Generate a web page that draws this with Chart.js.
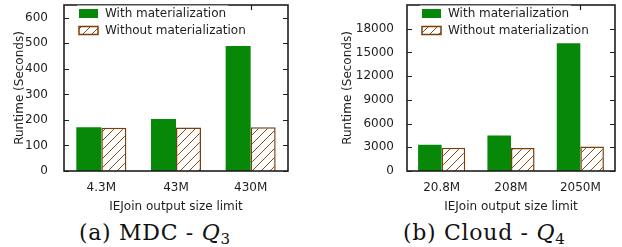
<!DOCTYPE html>
<html><head><meta charset="utf-8">
<script src="https://cdn.jsdelivr.net/npm/chart.js@4.4.0/dist/chart.umd.min.js"></script>
<style>
html,body{margin:0;padding:0;background:#fff;width:622px;height:247px;overflow:hidden}
.panel{position:absolute;top:0;width:311px;height:214px}
.cap{position:absolute;top:220px;font-family:'DejaVu Serif',serif;font-size:22px;line-height:25px;letter-spacing:0.7px;color:#111;white-space:nowrap}
.cap i{font-style:italic}
.cap .sb{font-size:15px;vertical-align:-4px;letter-spacing:0}
</style></head><body>
<div class="panel" style="left:0"><canvas id="c1" width="311" height="214"></canvas></div>
<div class="panel" style="left:311px"><canvas id="c2" width="311" height="214"></canvas></div>
<div class="cap" style="left:79px">(a) MDC - <i>Q</i><span class="sb">3</span></div>
<div class="cap" style="left:403px">(b) Cloud - <i>Q</i><span class="sb">4</span></div>
<script>
// ---- data ----
const seriesLabels = ['With materialization', 'Without materialization'];

const categoriesA = ['4.3M', '43M', '430M'];
const withMatA = [171, 204, 489];
const withoutMatA = [169, 170, 171];
const yTicksA = [0, 100, 200, 300, 400, 500, 600];
const yMaxA = 650;

const categoriesB = ['20.8M', '208M', '2050M'];
const withMatB = [3320, 4490, 16150];
const withoutMatB = [2950, 2900, 3100];
const yTicksB = [0, 3000, 6000, 9000, 12000, 15000, 18000];
const yMaxB = 21000;

const xTitle = 'IEJoin output size limit';
const yTitle = 'Runtime (Seconds)';

// ---- styles ----
const GREEN = '#088808';
const BROWN = '#7b3f0c';
const HATCH_LINE = '#8a4a14';
const INK = '#1e1e1e';
const FONT = {family: "'DejaVu Sans', sans-serif", size: 12};

function makeHatch() {
  const s = 9;
  const c = document.createElement('canvas');
  c.width = s; c.height = s;
  const g = c.getContext('2d');
  g.fillStyle = '#fff';
  g.fillRect(0, 0, s, s);
  g.strokeStyle = HATCH_LINE;
  g.lineWidth = 1;
  g.beginPath();
  g.moveTo(0, s); g.lineTo(s, 0);
  g.moveTo(-1, 1); g.lineTo(1, -1);
  g.moveTo(s - 1, s + 1); g.lineTo(s + 1, s - 1);
  g.stroke();
  return g.createPattern(c, 'repeat');
}
const hatch = makeHatch();

const framePlugin = {
  id: 'frame',
  afterDatasetsDraw(chart) {
    const ctx = chart.ctx;
    const ca = chart.chartArea;
    const ys = chart.scales.y, xs = chart.scales.x;
    ctx.save();
    ctx.strokeStyle = INK;
    ctx.lineWidth = 1.2;
    ys.ticks.forEach(t => {
      const y = Math.round(ys.getPixelForValue(t.value)) + 0.5;
      ctx.beginPath();
      ctx.moveTo(ca.left, y); ctx.lineTo(ca.left + 5, y);
      ctx.moveTo(ca.right, y); ctx.lineTo(ca.right - 5, y);
      ctx.stroke();
    });
    xs.ticks.forEach((t, i) => {
      const x = Math.round(xs.getPixelForTick(i)) + 0.5;
      ctx.beginPath();
      ctx.moveTo(x, ca.top); ctx.lineTo(x, ca.top + 5);
      ctx.stroke();
    });
    ctx.lineWidth = 1.6;
    ctx.strokeRect(ca.left, ca.top, ca.right - ca.left, ca.bottom - ca.top);

    ctx.font = "12px 'DejaVu Sans', sans-serif";
    ctx.textBaseline = 'middle';
    ctx.textAlign = 'left';
    const sx = ca.left + 15, sw = 19, tx = ca.left + 41;
    const rows = [ca.top + 8.5, ca.top + 25.5];
    chart.data.datasets.forEach((ds, i) => {
      const cy = rows[i];
      const tw = ctx.measureText(ds.label).width;
      ctx.fillStyle = '#fff';
      ctx.fillRect(sx - 2, cy - 8, tx - sx + tw + 4, 16);
      if (i === 0) {
        ctx.fillStyle = ds.backgroundColor;
        ctx.fillRect(sx, cy - 4.5, sw, 9);
      } else {
        ctx.fillStyle = ds.backgroundColor;
        ctx.fillRect(sx, cy - 4, sw, 8);
        ctx.strokeStyle = ds.borderColor;
        ctx.lineWidth = 1.5;
        ctx.strokeRect(sx, cy - 4, sw, 8);
      }
      ctx.fillStyle = INK;
      ctx.fillText(ds.label, tx, cy);
    });
    ctx.restore();
  }
};

function makeChart(id, cats, w, wo, yTicks, yMax, cfg) {
  return new Chart(document.getElementById(id), {
    type: 'bar',
    data: {
      labels: cats,
      datasets: [
        {label: seriesLabels[0], data: w, backgroundColor: GREEN, borderWidth: 0},
        {label: seriesLabels[1], data: wo, backgroundColor: hatch, borderColor: BROWN, borderWidth: 1.5}
      ]
    },
    options: {
      responsive: false,
      animation: false,
      devicePixelRatio: 1,
      layout: {padding: {left: 0, right: cfg.padRight, top: 5, bottom: 0}},
      datasets: {bar: {categoryPercentage: cfg.catPct, barPercentage: 1}},
      plugins: {legend: {display: false}, tooltip: {enabled: false}},
      scales: {
        x: {
          grid: {display: false},
          border: {display: false},
          ticks: {padding: 2, color: INK, font: FONT},
          title: {display: true, text: xTitle, color: INK, font: FONT, padding: {top: 0, bottom: 0}},
          afterFit(s) { s.height = 43; s.paddingLeft = 0; s.paddingRight = 0; }
        },
        y: {
          min: 0, max: yMax,
          afterBuildTicks(s) { s.ticks = yTicks.map(v => ({value: v})); },
          grid: {display: false},
          border: {display: false},
          ticks: {padding: cfg.tickPad, color: INK, font: FONT, callback: v => String(v)},
          title: {display: true, text: yTitle, color: INK, font: FONT, padding: {top: cfg.yTitlePad, bottom: 0}},
          afterFit(s) { s.width = cfg.plotLeft; s.paddingTop = 0; s.paddingBottom = 0; }
        }
      }
    },
    plugins: [framePlugin]
  });
}

makeChart('c1', categoriesA, withMatA, withoutMatA, yTicksA, yMaxA,
  {plotLeft: 64, padRight: 23, tickPad: 8, yTitlePad: 12.8, catPct: 0.67});
makeChart('c2', categoriesB, withMatB, withoutMatB, yTicksB, yMaxB,
  {plotLeft: 96, padRight: 7, tickPad: 5, yTitlePad: 29.8, catPct: 0.68});
</script>
</body></html>
